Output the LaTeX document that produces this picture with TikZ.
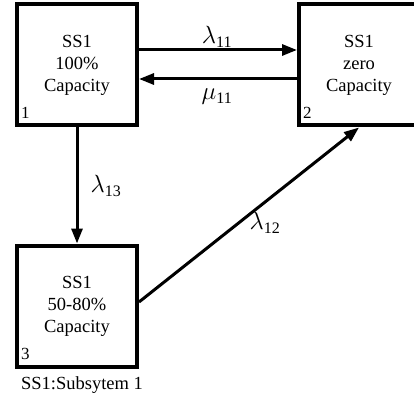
\documentclass[tikz,border=0pt]{standalone}
\usepackage{fontspec}
\setmainfont{Liberation Serif}
\usetikzlibrary{arrows.meta}
\newcommand{\rate}[2]{$#1_{\mbox{\fontsize{16}{16}\selectfont\rmfamily #2}}$}
\begin{document}
\begin{tikzpicture}[x=1pt,y=-1pt,
  statebox/.style={draw,line width=4pt,minimum width=120pt,minimum height=121pt,inner sep=0pt,align=center,font=\fontsize{18.5}{22}\selectfont},
  numlabel/.style={anchor=south west,inner sep=0pt,font=\fontsize{17}{20}\selectfont},
  arr/.style={line width=3pt,-{Triangle[length=15pt,width=11pt]}},
  ratelabel/.style={inner sep=0pt,font=\fontsize{25}{28}\selectfont}]
\useasboundingbox (0,0) rectangle (414,398);
\node[statebox] (b1) at (77,65) {SS1\\ 100\%\\Capacity};
\node[statebox] (b2) at (359,65) {SS1\\ zero\\Capacity};
\node[statebox] (b3) at (77,306) {SS1\\ 50-80\%\\Capacity};
\node[numlabel] (n1) at ([xshift=6pt,yshift=9pt]b1.south west) {1};
\node[numlabel] (n2) at ([xshift=6pt,yshift=9pt]b2.south west) {2};
\node[numlabel] (n3) at ([xshift=6pt,yshift=9pt]b3.south west) {3};
\draw[arr] (b1.east |- 0,50) -- (b2.west |- 0,50);
\draw[arr] (b2.west |- 0,79) -- (b1.east |- 0,79);
\draw[arr] (b1.south) -- (b3.north);
\draw[arr] ([yshift=4pt]b3.east) -- (b2.south);
\node[ratelabel] (l11) at (217,37) {\rate{\lambda}{11}};
\node[ratelabel] (m11) at (217,97) {\rate{\mu}{11}};
\node[ratelabel] (l13) at (106,186) {\rate{\lambda}{13}};
\node[ratelabel] (l12) at (265,223) {\rate{\lambda}{12}};
\node[inner sep=0pt,font=\fontsize{18.5}{22}\selectfont] (cap) at (82,385) {SS1:Subsytem 1};
\end{tikzpicture}
\end{document}
